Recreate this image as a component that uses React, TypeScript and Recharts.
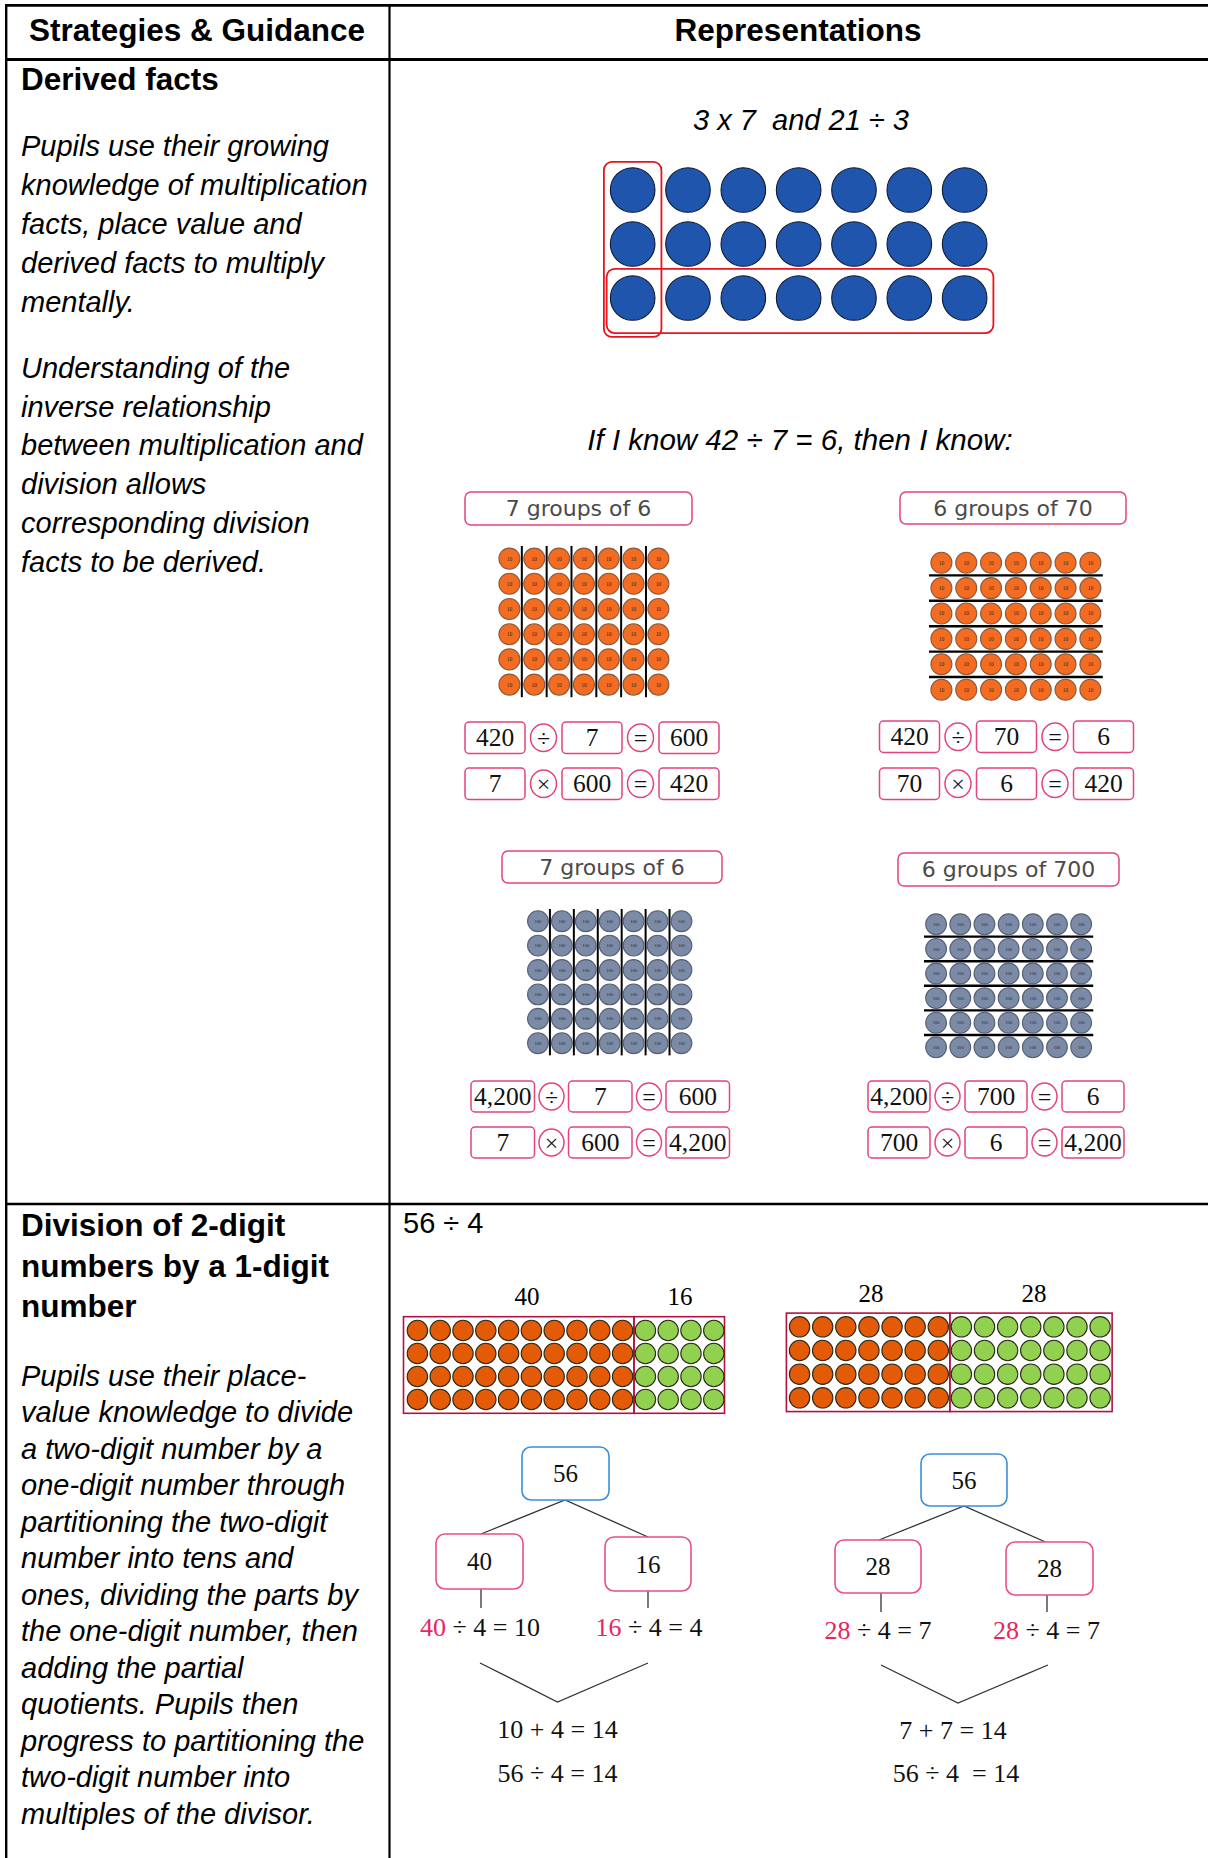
import React from 'react';
import { ScatterChart, Scatter, XAxis, YAxis, ReferenceLine, ReferenceArea } from 'recharts';

const SANS = '"Liberation Sans", Arial, sans-serif';
const SERIF = '"Liberation Serif", "Times New Roman", serif';
const ROUND = '"DejaVu Sans", sans-serif';
const PINK = '#e4447a';

// ---- content ----
const HEADERS = ['Strategies & Guidance', 'Representations'];
const DERIVED_TITLE = 'Derived facts';
const DERIVED_P1 = [
  'Pupils use their growing',
  'knowledge of multiplication',
  'facts, place value and',
  'derived facts to multiply',
  'mentally.',
];
const DERIVED_P2 = [
  'Understanding of the',
  'inverse relationship',
  'between multiplication and',
  'division allows',
  'corresponding division',
  'facts to be derived.',
];
const DIVISION_TITLE = ['Division of 2-digit', 'numbers by a 1-digit', 'number'];
const DIVISION_P = [
  'Pupils use their place-',
  'value knowledge to divide',
  'a two-digit number by a',
  'one-digit number through',
  'partitioning the two-digit',
  'number into tens and',
  'ones, dividing the parts by',
  'the one-digit number, then',
  'adding the partial',
  'quotients. Pupils then',
  'progress to partitioning the',
  'two-digit number into',
  'multiples of the divisor.',
];

// ---- values ----
const BLUE_GRID = [3, 7]; // rows, columns
const KNOWN_FACT = [42, 7, 6];
const PANEL_TITLES = ['7 groups of 6', '6 groups of 70', '7 groups of 6', '6 groups of 700'];
const PANEL_GRID = [6, 7]; // rows, columns
const COUNTER_VALUES = ['10', '10', '100', '100'];
const PANEL_FACTS = [
  [['420', '÷', '7', '=', '600'], ['7', '×', '600', '=', '420']],
  [['420', '÷', '70', '=', '6'], ['70', '×', '6', '=', '420']],
  [['4,200', '÷', '7', '=', '600'], ['7', '×', '600', '=', '4,200']],
  [['4,200', '÷', '700', '=', '6'], ['700', '×', '6', '=', '4,200']],
];
const DIVIDEND = 56;
const DIVISOR = 4;
const SPLIT_TENS = [40, 16];
const SPLIT_MULTIPLES = [28, 28];
const QUOTIENTS_TENS = [10, 4];
const QUOTIENTS_MULTIPLES = [7, 7];
const TOTAL = 14;

// ---- helpers ----
type Pt = { x: number; y: number; k: number };

function gridPoints(rows: number, colGroups: number[]): Pt[] {
  const pts: Pt[] = [];
  for (let r = 1; r <= rows; r++) {
    let c = 1;
    colGroups.forEach((n, k) => {
      for (let i = 0; i < n; i++) pts.push({ x: c++, y: r, k });
    });
  }
  return pts;
}

const counter = (fills: string[], stroke: string, r: number, label?: string, labelSize = 5) =>
  (props: any) => {
    const { cx, cy, payload } = props;
    return (
      <g>
        <circle cx={cx} cy={cy} r={r} fill={fills[payload.k] || fills[0]} stroke={stroke} strokeWidth={1.1} />
        {label ? (
          <text x={cx} y={cy + labelSize * 0.35} textAnchor="middle" fontSize={labelSize} fontFamily={SERIF} fill="#2a2a2a">
            {label}
          </text>
        ) : null}
      </g>
    );
  };

type GridProps = {
  left: number;
  top: number;
  cellW: number;
  cellH: number;
  rows: number;
  cols: number;
  pad?: number;
  data: Pt[];
  shape: (p: any) => React.ReactElement;
  children?: React.ReactNode;
};

function DotGrid({ left, top, cellW, cellH, rows, cols, pad = 6, data, shape, children }: GridProps) {
  const w = cols * cellW + 2 * pad;
  const h = rows * cellH + 2 * pad;
  return (
    <div style={{ position: 'absolute', left: left - pad, top: top - pad }}>
      <ScatterChart width={w} height={h} margin={{ top: pad, right: pad, bottom: pad, left: pad }}>
        <XAxis type="number" dataKey="x" domain={[0.5, cols + 0.5]} allowDataOverflow hide />
        <YAxis type="number" dataKey="y" domain={[0.5, rows + 0.5]} allowDataOverflow reversed hide />
        {children}
        <Scatter data={data} shape={shape} isAnimationActive={false} />
      </ScatterChart>
    </div>
  );
}

const roundRect = (stroke: string, rx: number, sw = 1.8) => (p: any) => (
  <rect x={p.x} y={p.y} width={p.width} height={p.height} rx={rx} fill="none" stroke={stroke} strokeWidth={sw} />
);

type TP = {
  x: number;
  y: number;
  size: number;
  children: React.ReactNode;
  anchor?: 'start' | 'middle' | 'end';
  bold?: boolean;
  italic?: boolean;
  family?: string;
  fill?: string;
};

const T = ({ x, y, size, children, anchor = 'start', bold, italic, family = SANS, fill = '#000' }: TP) => (
  <text
    x={x}
    y={y}
    fontSize={size}
    textAnchor={anchor}
    fontWeight={bold ? 'bold' : 'normal'}
    fontStyle={italic ? 'italic' : 'normal'}
    fontFamily={family}
    fill={fill}
    style={{ whiteSpace: 'pre' }}
  >
    {children}
  </text>
);

const TITLE_BOXES = [
  [465, 492, 227, 33],
  [900, 492, 226, 32],
  [502, 851, 220, 32],
  [898, 853, 221, 33],
];

const FACT_LAYOUT = [
  { x: 465, boxW: 60, circW: 26, gap: 5.5, rows: [722, 768], h: 31.5 },
  { x: 879.5, boxW: 60, circW: 26, gap: 5.5, rows: [721, 768], h: 31.5 },
  { x: 471, boxW: 63.5, circW: 25, gap: 4.5, rows: [1081, 1127], h: 31 },
  { x: 868, boxW: 62, circW: 25, gap: 5, rows: [1081, 1127], h: 31 },
];

function FactRow({ x0, y, h, boxW, circW, gap, items }: any) {
  let x = x0;
  const els: React.ReactNode[] = [];
  (items as string[]).forEach((it, i) => {
    const op = i % 2 === 1;
    const w = op ? circW : boxW;
    if (op) {
      els.push(<ellipse key={'e' + i} cx={x + w / 2} cy={y + h / 2} rx={w / 2} ry={h / 2 - 2} fill="#fff" stroke={PINK} strokeWidth={1.5} />);
    } else {
      els.push(<rect key={'r' + i} x={x} y={y} width={w} height={h} rx={4} fill="#fff" stroke={PINK} strokeWidth={1.5} />);
    }
    els.push(
      <T key={'t' + i} x={x + w / 2} y={y + h / 2 + 8.6} size={op ? 24 : 25.5} anchor="middle" family={SERIF} fill="#111">
        {it}
      </T>
    );
    x += w + gap;
  });
  return <g>{els}</g>;
}

const TreeBox = ({ x, y, w, h, color, label }: any) => (
  <g>
    <rect x={x} y={y} width={w} height={h} rx={9} fill="#fff" stroke={color} strokeWidth={1.6} />
    <T x={x + w / 2} y={y + h / 2 + 8.5} size={25} anchor="middle" family={SERIF} fill="#111">
      {label}
    </T>
  </g>
);

const PartEq = ({ x, y, part, q }: any) => (
  <text x={x} y={y} fontSize={26} textAnchor="middle" fontFamily={SERIF} fill="#111" style={{ whiteSpace: 'pre' }}>
    <tspan fill="#e8265e">{part}</tspan>
    {` ÷ ${DIVISOR} = ${q}`}
  </text>
);

export default function App() {
  const [blueRows, blueCols] = BLUE_GRID;
  const [pRows, pCols] = PANEL_GRID;
  const tensPts = gridPoints(pRows, [pCols]);
  const splitA = SPLIT_TENS.map((v) => v / DIVISOR);
  const splitB = SPLIT_MULTIPLES.map((v) => v / DIVISOR);
  const colsA = splitA.reduce((a, b) => a + b, 0);
  const colsB = splitB.reduce((a, b) => a + b, 0);

  const tens = counter(['#f36c21'], '#8b5a3c', 10.5, COUNTER_VALUES[0], 5.5);
  const hundreds = counter(['#7b8aa6'], '#556074', 10.4, COUNTER_VALUES[2], 4.6);
  const ones = counter(['#e35b06', '#92d050'], '#2a2a1a', 10.2);

  const lineSeps = [1.5, 2.5, 3.5, 4.5, 5.5, 6.5];

  return (
    <div style={{ position: 'absolute', left: 0, top: 0, width: 1208, height: 1858, background: '#fff', overflow: 'hidden' }}>
      <svg width={1208} height={1858} style={{ position: 'absolute', left: 0, top: 0 }}>
        {/* table */}
        <line x1={5} y1={5.3} x2={1208} y2={5.3} stroke="#000" strokeWidth={2.7} />
        <line x1={6.2} y1={4} x2={6.2} y2={1858} stroke="#000" strokeWidth={2.4} />
        <line x1={389.5} y1={4} x2={389.5} y2={1858} stroke="#000" strokeWidth={2.2} />
        <line x1={5} y1={59.5} x2={1208} y2={59.5} stroke="#000" strokeWidth={3} />
        <line x1={5} y1={1204} x2={1208} y2={1204} stroke="#000" strokeWidth={2.6} />

        <T x={197} y={41} size={31.5} bold anchor="middle">{HEADERS[0]}</T>
        <T x={798} y={41} size={31.5} bold anchor="middle">{HEADERS[1]}</T>

        {/* left column */}
        <T x={21} y={90} size={31.5} bold>{DERIVED_TITLE}</T>
        {DERIVED_P1.map((s, i) => (
          <T key={s} x={21} y={156 + i * 39.1} size={29} italic>{s}</T>
        ))}
        {DERIVED_P2.map((s, i) => (
          <T key={s} x={21} y={378 + i * 38.7} size={29} italic>{s}</T>
        ))}
        {DIVISION_TITLE.map((s, i) => (
          <T key={s} x={21} y={1236 + i * 40.5} size={31.5} bold>{s}</T>
        ))}
        {DIVISION_P.map((s, i) => (
          <T key={s} x={21} y={1385.5 + i * 36.5} size={29} italic>{s}</T>
        ))}

        {/* derived facts representations */}
        <T x={801} y={130} size={29} italic anchor="middle">{`${blueRows} x ${blueCols}  and ${blueRows * blueCols} ÷ ${blueRows}`}</T>
        <T x={800} y={450} size={29.5} italic anchor="middle">
          {`If I know ${KNOWN_FACT[0]} ÷ ${KNOWN_FACT[1]} = ${KNOWN_FACT[2]}, then I know:`}
        </T>

        {TITLE_BOXES.map(([x, y, w, h], i) => (
          <g key={'tb' + i}>
            <rect x={x} y={y} width={w} height={h} rx={6} fill="#fff" stroke={PINK} strokeWidth={1.5} />
            <T x={x + w / 2} y={y + h / 2 + 7.8} size={22} anchor="middle" family={ROUND} fill="#4a4a4a">
              {PANEL_TITLES[i]}
            </T>
          </g>
        ))}

        {FACT_LAYOUT.map((L, i) =>
          PANEL_FACTS[i].map((items, j) => (
            <FactRow key={`f${i}${j}`} x0={L.x} y={L.rows[j]} h={L.h} boxW={L.boxW} circW={L.circW} gap={L.gap} items={items} />
          ))
        )}

        {/* division representations */}
        <T x={403} y={1233} size={29}>{`${DIVIDEND} ÷ ${DIVISOR}`}</T>
        <T x={527} y={1305} size={25} anchor="middle" family={SERIF}>{SPLIT_TENS[0]}</T>
        <T x={680} y={1305} size={25} anchor="middle" family={SERIF}>{SPLIT_TENS[1]}</T>
        <T x={871} y={1301.5} size={25} anchor="middle" family={SERIF}>{SPLIT_MULTIPLES[0]}</T>
        <T x={1034} y={1301.5} size={25} anchor="middle" family={SERIF}>{SPLIT_MULTIPLES[1]}</T>

        <g stroke="#333" strokeWidth={1.3} fill="none">
          <polyline points="481,1534 565,1500 648,1537" />
          <line x1={481} y1={1589} x2={481} y2={1608} />
          <line x1={648} y1={1591} x2={648} y2={1608} />
          <polyline points="480,1663 557.5,1702 648,1663" />
          <polyline points="879,1540 964,1506 1045.5,1542" />
          <line x1={881} y1={1593} x2={881} y2={1612} />
          <line x1={1047} y1={1595} x2={1047} y2={1612} />
          <polyline points="881,1665 958,1703 1048,1665" />
        </g>

        <TreeBox x={522} y={1447} w={87} h={53} color="#3a8fd8" label={DIVIDEND} />
        <TreeBox x={921} y={1454} w={86} h={52} color="#3a8fd8" label={DIVIDEND} />
        <TreeBox x={436} y={1534} w={87} h={55} color="#ec4f7d" label={SPLIT_TENS[0]} />
        <TreeBox x={605} y={1537} w={86} h={54} color="#ec4f7d" label={SPLIT_TENS[1]} />
        <TreeBox x={835} y={1540} w={86} h={53} color="#ec4f7d" label={SPLIT_MULTIPLES[0]} />
        <TreeBox x={1006} y={1542} w={87} h={53} color="#ec4f7d" label={SPLIT_MULTIPLES[1]} />

        <PartEq x={480} y={1636} part={SPLIT_TENS[0]} q={QUOTIENTS_TENS[0]} />
        <PartEq x={649} y={1636} part={SPLIT_TENS[1]} q={QUOTIENTS_TENS[1]} />
        <PartEq x={878} y={1639} part={SPLIT_MULTIPLES[0]} q={QUOTIENTS_MULTIPLES[0]} />
        <PartEq x={1046.5} y={1639} part={SPLIT_MULTIPLES[1]} q={QUOTIENTS_MULTIPLES[1]} />

        <T x={557.5} y={1738} size={26} anchor="middle" family={SERIF} fill="#111">{`${QUOTIENTS_TENS[0]} + ${QUOTIENTS_TENS[1]} = ${TOTAL}`}</T>
        <T x={557.5} y={1782} size={26} anchor="middle" family={SERIF} fill="#111">{`${DIVIDEND} ÷ ${DIVISOR} = ${TOTAL}`}</T>
        <T x={953} y={1739} size={26} anchor="middle" family={SERIF} fill="#111">{`${QUOTIENTS_MULTIPLES[0]} + ${QUOTIENTS_MULTIPLES[1]} = ${TOTAL}`}</T>
        <T x={956} y={1782} size={26} anchor="middle" family={SERIF} fill="#111">{`${DIVIDEND} ÷ ${DIVISOR}  = ${TOTAL}`}</T>
      </svg>

      {/* 3 x 7 array */}
      <DotGrid left={605.3} top={163} cellW={55.33} cellH={54} rows={blueRows} cols={blueCols} pad={24}
        data={gridPoints(blueRows, [blueCols])} shape={counter(['#1f55ac'], '#0d1a33', 22.3)}>
        <ReferenceArea x1={0.48} x2={1.52} y1={0.48} y2={3.72} ifOverflow="visible" shape={roundRect('#e8141c', 8)} />
        <ReferenceArea x1={0.53} x2={7.52} y1={2.46} y2={3.65} ifOverflow="visible" shape={roundRect('#e8141c', 8)} />
      </DotGrid>

      {/* tens counters */}
      <DotGrid left={496.6} top={546.4} cellW={24.83} cellH={25.2} rows={pRows} cols={pCols} data={tensPts} shape={tens}>
        {lineSeps.map((v) => <ReferenceLine key={v} x={v} stroke="#000" strokeWidth={2} />)}
      </DotGrid>
      <DotGrid left={928.6} top={550.3} cellW={24.83} cellH={25.4} rows={pRows} cols={pCols} data={tensPts} shape={tens}>
        {lineSeps.slice(0, pRows - 1).map((v) => <ReferenceLine key={v} y={v} stroke="#000" strokeWidth={2.4} />)}
      </DotGrid>

      {/* hundreds counters */}
      <DotGrid left={525.5} top={908.8} cellW={23.92} cellH={24.4} rows={pRows} cols={pCols} data={tensPts} shape={hundreds}>
        {lineSeps.map((v) => <ReferenceLine key={v} x={v} stroke="#000" strokeWidth={2} />)}
      </DotGrid>
      <DotGrid left={923.6} top={911.7} cellW={24.18} cellH={24.6} rows={pRows} cols={pCols} data={tensPts} shape={hundreds}>
        {lineSeps.slice(0, pRows - 1).map((v) => <ReferenceLine key={v} y={v} stroke="#000" strokeWidth={2.4} />)}
      </DotGrid>

      {/* 56 split into 40 and 16 */}
      <DotGrid left={405.6} top={1318.5} cellW={22.8} cellH={23} rows={DIVISOR} cols={colsA} pad={8}
        data={gridPoints(DIVISOR, splitA)} shape={ones}>
        <ReferenceArea x1={0.39} x2={splitA[0] + 0.5} y1={0.4} y2={4.6} ifOverflow="visible" shape={roundRect('#b3123e', 0, 1.6)} />
        <ReferenceArea x1={splitA[0] + 0.5} x2={14.47} y1={0.4} y2={4.6} ifOverflow="visible" shape={roundRect('#b3123e', 0, 1.6)} />
      </DotGrid>

      {/* 56 split into 28 and 28 */}
      <DotGrid left={788.4} top={1315.2} cellW={23.12} cellH={23.67} rows={DIVISOR} cols={colsB} pad={8}
        data={gridPoints(DIVISOR, splitB)} shape={ones}>
        <ReferenceArea x1={0.43} x2={splitB[0] + 0.5} y1={0.42} y2={4.58} ifOverflow="visible" shape={roundRect('#b3123e', 0, 1.6)} />
        <ReferenceArea x1={splitB[0] + 0.5} x2={14.52} y1={0.42} y2={4.58} ifOverflow="visible" shape={roundRect('#b3123e', 0, 1.6)} />
      </DotGrid>
    </div>
  );
}
